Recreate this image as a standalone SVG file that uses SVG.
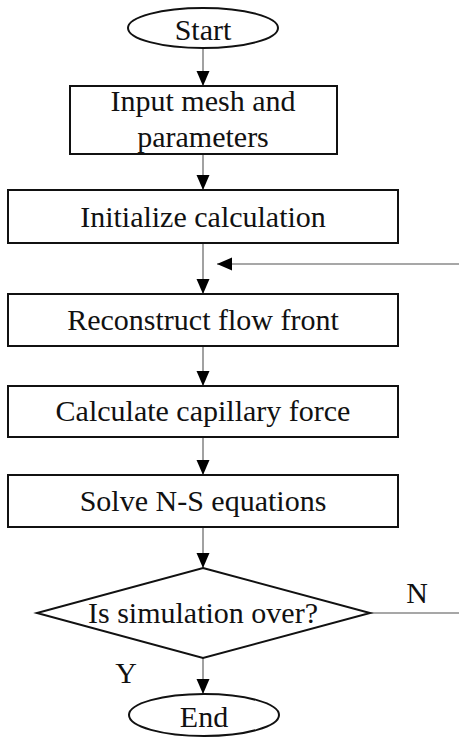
<svg xmlns="http://www.w3.org/2000/svg" width="459" height="737" viewBox="0 0 459 737">
  <defs>
    <marker id="arr" viewBox="0 -7 15 14" refX="15" refY="0" markerWidth="15" markerHeight="14" markerUnits="userSpaceOnUse" orient="auto">
      <path d="M0,-6.5 L15,0 L0,6.5 z" fill="#000"/>
    </marker>
    <style>
      .shape { fill: #fff; stroke: #111; stroke-width: 2; }
      .conn { fill: none; stroke: #8a8a8a; stroke-width: 1.6; }
      .arrow { marker-end: url(#arr); }
      text { font-family: "Liberation Serif", "Times New Roman", serif; font-size: 30px; fill: #111; }
      .c { text-anchor: middle; }
    </style>
  </defs>
  <rect width="459" height="737" fill="#fff"/>

  <g id="connectors">
    <line class="conn arrow" x1="203" y1="48" x2="203" y2="86"/>
    <line class="conn arrow" x1="203" y1="154" x2="203" y2="190"/>
    <line class="conn arrow" x1="203" y1="243" x2="203" y2="294"/>
    <line class="conn arrow" x1="459" y1="264" x2="217" y2="264"/>
    <line class="conn arrow" x1="203" y1="346" x2="203" y2="386"/>
    <line class="conn arrow" x1="203" y1="437" x2="203" y2="475"/>
    <line class="conn arrow" x1="203" y1="527" x2="203" y2="568"/>
    <line class="conn arrow" x1="203" y1="658" x2="203" y2="694"/>
    <line class="conn" x1="370" y1="613" x2="459" y2="613"/>
    <text x="417" y="603" class="c">N</text>
    <text x="126" y="683" class="c">Y</text>
  </g>

  <g id="start">
    <ellipse class="shape" cx="203" cy="28" rx="75" ry="20"/>
    <text x="203" y="40" class="c">Start</text>
  </g>

  <g id="input">
    <rect class="shape" x="70" y="86" width="267" height="68"/>
    <text x="203" y="111" class="c">Input mesh and</text>
    <text x="203" y="147" class="c">parameters</text>
  </g>

  <g id="init">
    <rect class="shape" x="8" y="190" width="390" height="53"/>
    <text x="203" y="227" class="c">Initialize calculation</text>
  </g>

  <g id="reconstruct">
    <rect class="shape" x="8" y="294" width="390" height="52"/>
    <text x="203" y="330" class="c">Reconstruct flow front</text>
  </g>

  <g id="capillary">
    <rect class="shape" x="8" y="386" width="390" height="51"/>
    <text x="203" y="421" class="c">Calculate capillary force</text>
  </g>

  <g id="solve">
    <rect class="shape" x="8" y="475" width="390" height="52"/>
    <text x="203" y="511" class="c">Solve N-S equations</text>
  </g>

  <g id="decision">
    <polygon class="shape" points="203,568 370,613 203,658 37,613"/>
    <text x="203" y="623" class="c">Is simulation over?</text>
  </g>

  <g id="end">
    <ellipse class="shape" cx="204" cy="715" rx="75" ry="21"/>
    <text x="204" y="727" class="c">End</text>
  </g>
</svg>
